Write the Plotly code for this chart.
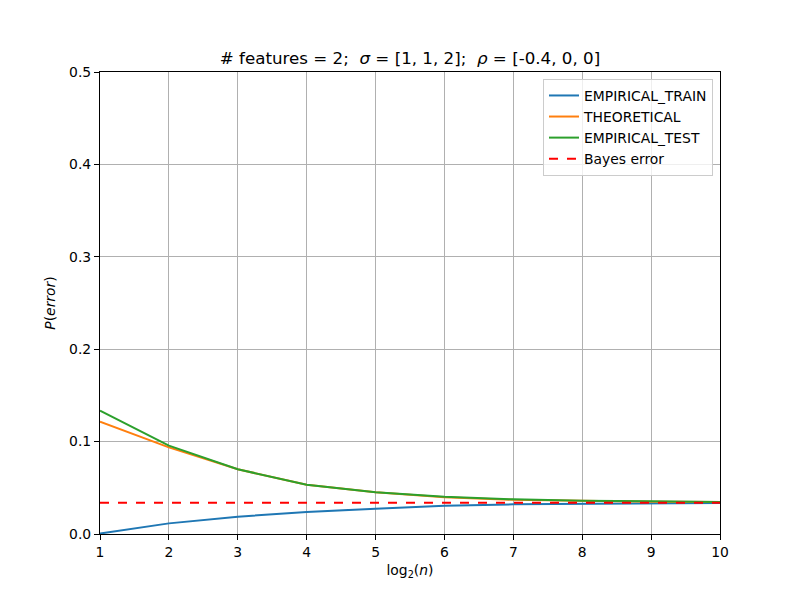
import plotly.graph_objects as go

log2_n = [1, 2, 3, 4, 5, 6, 7, 8, 9, 10]
empirical_train = [0.0005, 0.0115, 0.0188, 0.0238, 0.0274, 0.0306, 0.0321, 0.0328, 0.0332, 0.0335]
theoretical = [0.1216, 0.0938, 0.0700, 0.0534, 0.0451, 0.0398, 0.0370, 0.0357, 0.0350, 0.0345]
empirical_test = [0.1334, 0.0956, 0.0700, 0.0534, 0.0451, 0.0404, 0.0375, 0.0360, 0.0354, 0.0346]
bayes_error = 0.0339

FONT = "DejaVu Sans"

fig = go.Figure()
fig.add_trace(go.Scatter(x=log2_n, y=empirical_train, mode="lines", name="EMPIRICAL_TRAIN",
                         line=dict(color="#1f77b4", width=2)))
fig.add_trace(go.Scatter(x=log2_n, y=theoretical, mode="lines", name="THEORETICAL",
                         line=dict(color="#ff7f0e", width=2)))
fig.add_trace(go.Scatter(x=log2_n, y=empirical_test, mode="lines", name="EMPIRICAL_TEST",
                         line=dict(color="#2ca02c", width=2)))
fig.add_trace(go.Scatter(x=[log2_n[0], log2_n[-1]], y=[bayes_error, bayes_error], mode="lines",
                         name="Bayes error", line=dict(color="red", width=2, dash="dash")))

axis_common = dict(
    showline=True, linecolor="black", linewidth=1.1, mirror=True,
    ticks="outside", ticklen=5, tickwidth=1.1, tickcolor="black",
    showgrid=True, gridcolor="#b0b0b0", gridwidth=1.1, zeroline=False,
    tickfont=dict(family=FONT, size=13.9, color="black"),
)

fig.update_layout(
    width=800, height=600,
    margin=dict(l=100, r=80, t=72, b=66),
    paper_bgcolor="white", plot_bgcolor="white",
    font=dict(family=FONT, size=13.9, color="black"),
    title=dict(text="# features = 2;  <i>σ</i> = [1, 1, 2];  <i>ρ</i> = [-0.4, 0, 0]",
               x=0.5125, xanchor="center", y=0.903, yanchor="middle",
               font=dict(family=FONT, size=16.7, color="black")),
    xaxis=dict(range=[1, 10], tickvals=log2_n, title=dict(text="log<sub>2</sub>(<i>n</i>)", standoff=6,
               font=dict(family=FONT, size=13.9)), **axis_common),
    yaxis=dict(range=[0, 0.5], dtick=0.1, tickformat=".1f",
               title=dict(text="<i>P</i>(<i>error</i>)", standoff=10, font=dict(family=FONT, size=13.9)),
               **axis_common),
    legend=dict(x=0.9887, y=0.985, xanchor="right", yanchor="top",
                bgcolor="rgba(255,255,255,0.8)", bordercolor="#cccccc", borderwidth=1,
                font=dict(family=FONT, size=13.9, color="black"), tracegroupgap=0,
                itemwidth=30),
    showlegend=True,
)

fig.write_html("out.html")
